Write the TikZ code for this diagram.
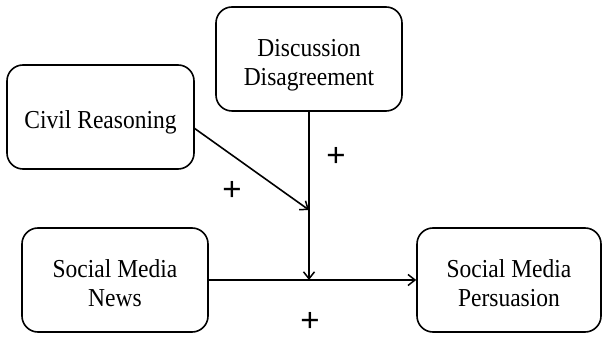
\documentclass[tikz,border=0pt]{standalone}
\usepackage{fontspec}
\usepackage{graphicx}
\setmainfont{Liberation Serif}
\newfontfamily\plusfont{Liberation Sans}
\usetikzlibrary{arrows.meta}
\newcommand\bxtext[1]{\raisebox{-13pt}[0pt][0pt]{\scalebox{1}[1.1]{\begin{tabular}{@{}c@{}}#1\end{tabular}}}}
\begin{document}
\begin{tikzpicture}[x=1pt,y=1pt,
  box/.style={draw, line width=1.6pt, rounded corners=16pt, minimum width=186pt, minimum height=104pt, align=center, inner sep=0pt, font=\fontsize{23.5}{26.5}\selectfont},
  conn/.style={line width=1.6pt, -{Straight Barb[length=7pt,width=11pt,line width=1.5pt]}},
  plus/.style={font=\plusfont\fontsize{33}{33}\selectfont, inner sep=0pt}]
\useasboundingbox (0,0) rectangle (602,337);
\node[box] (dd) at (309,278) {\bxtext{Discussion\\Disagreement}};
\node[box, minimum width=187pt] (cr) at (100.5,220) {\bxtext{Civil Reasoning}};
\node[box] (smn) at (115,57) {\bxtext{Social Media\\News}};
\node[box, minimum width=184pt] (smp) at (509,57) {\bxtext{Social Media\\Persuasion}};
\coordinate (j) at (309,57);
\coordinate (k) at (309,127);
\coordinate (crout) at (194,209);
\draw[conn] (smn.east) -- (smp.west);
\draw[conn] (dd.south) -- (j);
\draw[conn] (crout) -- (k);
\node[plus] (p1) at (336,180) {+};
\node[plus] (p2) at (232,146) {+};
\node[plus] (p3) at (310,15) {+};
\end{tikzpicture}
\end{document}
